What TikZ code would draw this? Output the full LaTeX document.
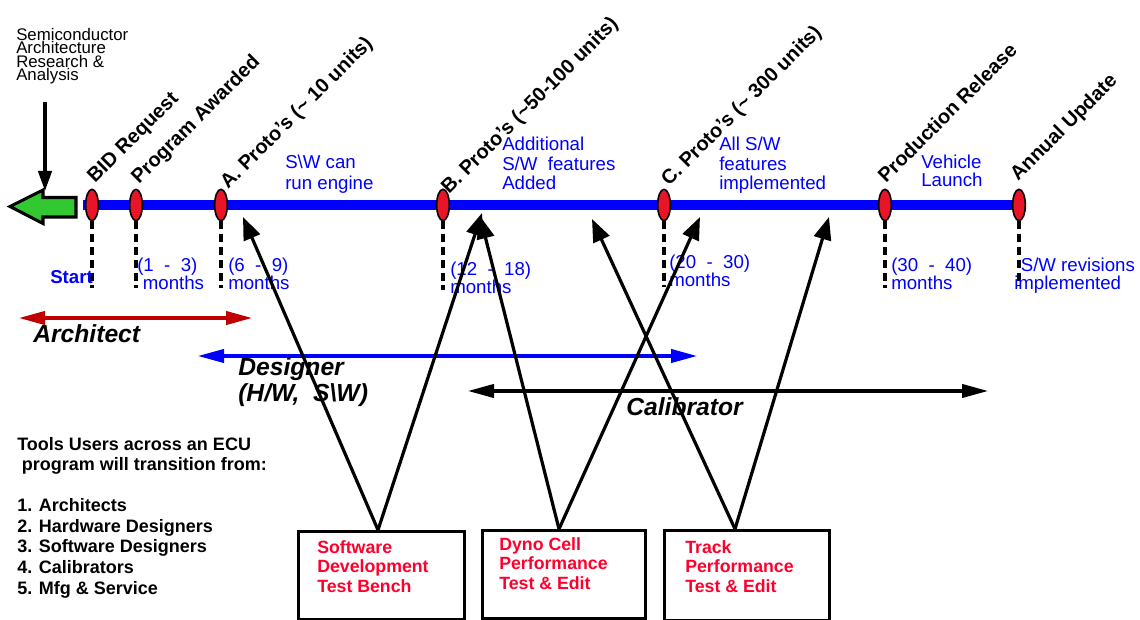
\documentclass[tikz,border=0pt]{standalone}
\usepackage{fontspec}
\setmainfont{Liberation Sans}
\usetikzlibrary{arrows.meta,shapes.geometric,calc}

\definecolor{msred}{RGB}{232,20,40}
\definecolor{pureblue}{RGB}{0,0,255}
\definecolor{toolred}{RGB}{255,0,45}
\definecolor{archred}{RGB}{192,0,0}
\definecolor{gofill}{RGB}{50,200,50}

\newcommand\setfs[2]{\fontsize{#1}{#2}\selectfont\lineskiplimit=-20pt\relax}

\begin{document}
\begin{tikzpicture}[x=0.75pt,y=-0.75pt,
  milestone/.style={ellipse, draw=black, line width=1.2pt, fill=msred,
    minimum width=9.5pt, minimum height=23.5pt, inner sep=0pt},
  tickline/.style={line width=2.4pt, dash pattern=on 6pt off 3.6pt},
  rotlabel/.style={rotate=45, anchor=base west, inner sep=0pt,
    font=\setfs{15}{18}\bfseries},
  bluenote/.style={anchor=north west, inner sep=0pt, align=left,
    text=pureblue, font=\setfs{14}{14.6}},
  monthnote/.style={anchor=north west, inner sep=0pt, align=left,
    text=pureblue, font=\setfs{14}{13.5}},
  rolename/.style={anchor=north west, inner sep=0pt, align=left,
    font=\setfs{18.5}{20}\bfseries\itshape},
  spanarrow/.style={line width=2.3pt,
    {Triangle[length=19.5pt,width=10pt]}-{Triangle[length=19.5pt,width=10pt]}},
  toolbox/.style={draw, line width=2.2pt, inner sep=0pt},
  tooltext/.style={anchor=north west, inner sep=0pt, align=left,
    text=toolred, font=\setfs{13.3}{14.8}\bfseries},
  feed/.style={line width=2.4pt, -{Triangle[length=17pt,width=13pt]}},
]
\useasboundingbox (0,0) rectangle (1140,620);

% source note and its pointer into the start arrow
\node[anchor=north west, inner sep=0pt, align=left, font=\setfs{12.6}{10}]
  (semi) at (16,28) {Semiconductor\\Architecture\\Research \&\\Analysis};
\coordinate (semiout) at (45,102);
\coordinate (gotop) at (45,191);

% green start arrow
\draw[line width=2.3pt, fill=gofill, line join=miter]
  (76,197.5) -- (43,197.5) -- (43,190) -- (10,206.5) -- (43,223.5) -- (43,217) -- (76,217) -- cycle;
\draw[line width=2.5pt, -{Triangle[length=15pt,width=10pt]}] (semiout) -- (gotop);

% timeline
\coordinate (tlstart) at (83,205);
\coordinate (tlend) at (1019,205);
\draw[pureblue, line width=7.5pt] (tlstart) -- (tlend);

% milestones
\node[milestone] (m1) at (92,205) {};
\node[milestone] (m2) at (136,205) {};
\node[milestone] (m3) at (221,205) {};
\node[milestone] (m4) at (443,205) {};
\node[milestone] (m5) at (664,205) {};
\node[milestone] (m6) at (885,205) {};
\node[milestone] (m7) at (1019,205) {};

% dashed drop lines
\coordinate (d1) at (92,288);
\coordinate (d2) at (136,288);
\coordinate (d3) at (221,288);
\coordinate (d4) at (443,290);
\coordinate (d5) at (664,287);
\coordinate (d6) at (885,288);
\coordinate (d7) at (1019,286);
\foreach \i in {1,...,7} { \draw[tickline] (m\i.south) -- (d\i); }

% milestone names
\node[rotlabel] (n1) at (95,184) {BID Request};
\node[rotlabel] (n2) at (139,185) {Program Awarded};
\node[rotlabel] (n3) at (228,190) {A. Proto's (\textasciitilde\ 10 units)};
\node[rotlabel] (n4) at (449,195) {B. Proto's (\textasciitilde50-100 units)};
\node[rotlabel] (n5) at (669,187) {C. Proto's (\textasciitilde\ 300 units)};
\node[rotlabel] (n6) at (886,184) {Production Release};
\node[rotlabel] (n7) at (1018,182) {Annual Update};

% phase notes above the timeline
\node[bluenote, font=\setfs{14}{15.75}] (p1) at (285,155) {S\textbackslash W can\\run engine};
\node[bluenote] (p2) at (502,137) {Additional\\S/W\ \ features\\Added};
\node[bluenote] (p3) at (719,137) {All S/W\\features\\implemented};
\node[bluenote, font=\setfs{14}{13.5}] (p4) at (921,155) {Vehicle\\Launch};

% durations below the timeline
\node[anchor=base west, inner sep=0pt, text=pureblue, font=\setfs{14}{14}\bfseries]
  (start) at (50,284) {Start};
\node[monthnote] (t2) at (137,258) {(1\ \ -\ \ 3)\\\hspace*{0.3em}months};
\node[monthnote] (t3) at (228,258) {(6\ \ -\ \ 9)\\months};
\node[monthnote] (t4) at (450,262) {(12\ \ -\ \ 18)\\months};
\node[monthnote] (t5) at (669,255) {(20\ \ -\ \ 30)\\months};
\node[monthnote] (t6) at (891,258) {(30\ \ -\ \ 40)\\months};
\node[monthnote] (t7) at (1014,258) {\hspace*{0.35em}S/W revisions\\implemented};

% roles and their spans
\coordinate (archL) at (19,318);
\coordinate (archR) at (252,318);
\draw[spanarrow, archred] (archL) -- (archR);
\node[rolename] (arch) at (33,324) {Architect};

\coordinate (desL) at (198,356);
\coordinate (desR) at (697,356);
\draw[spanarrow, pureblue] (desL) -- (desR);
\node[rolename] (des) at (238,357) {Designer\\(H/W,\ \ S\textbackslash W)};

\coordinate (calL) at (468,391);
\coordinate (calR) at (988,391);
\draw[spanarrow, black] (calL) -- (calR);
\node[rolename] (cal) at (626,397) {Calibrator};

% tool users list
\node[anchor=north west, inner sep=0pt, align=left, font=\setfs{13.5}{15.4}\bfseries]
  (users) at (17,437)
  {Tools Users across an ECU\\\hspace*{0.25em}program will transition from:\\[15.4pt]
   1. Architects\\2. Hardware Designers\\3. Software Designers\\4. Calibrators\\5. Mfg \& Service};

% tool boxes
\node[toolbox, minimum width=124.5pt, minimum height=66pt, anchor=north west] (b1) at (297,530) {};
\node[toolbox, minimum width=122pt, minimum height=66pt, anchor=north west] (b2) at (481,529) {};
\node[toolbox, minimum width=124pt, minimum height=67.5pt, anchor=north west] (b3) at (663,529) {};
\node[tooltext] (b1t) at (317,540) {Software\\Development\\Test Bench};
\node[tooltext] (b2t) at (499,537) {Dyno Cell\\Performance\\Test \& Edit};
\node[tooltext] (b3t) at (685,540) {Track\\Performance\\Test \& Edit};

% feedback from the tools into the program milestones
\coordinate (b1apex) at (378,530);
\coordinate (b2apex) at (559,529);
\coordinate (b3apex) at (735,529);
\coordinate (tA) at (243,217);
\coordinate (tB1) at (482,213);
\coordinate (tB2) at (480,216);
\coordinate (tC) at (700,217);
\coordinate (tD) at (592,219);
\coordinate (tE) at (829,217);
\draw[feed] (b1apex) -- (tA);
\draw[feed] (b1apex) -- (tB1);
\draw[feed] (b2apex) -- (tB2);
\draw[feed] (b2apex) -- (tC);
\draw[feed] (b3apex) -- (tD);
\draw[feed] (b3apex) -- (tE);
\end{tikzpicture}
\end{document}
